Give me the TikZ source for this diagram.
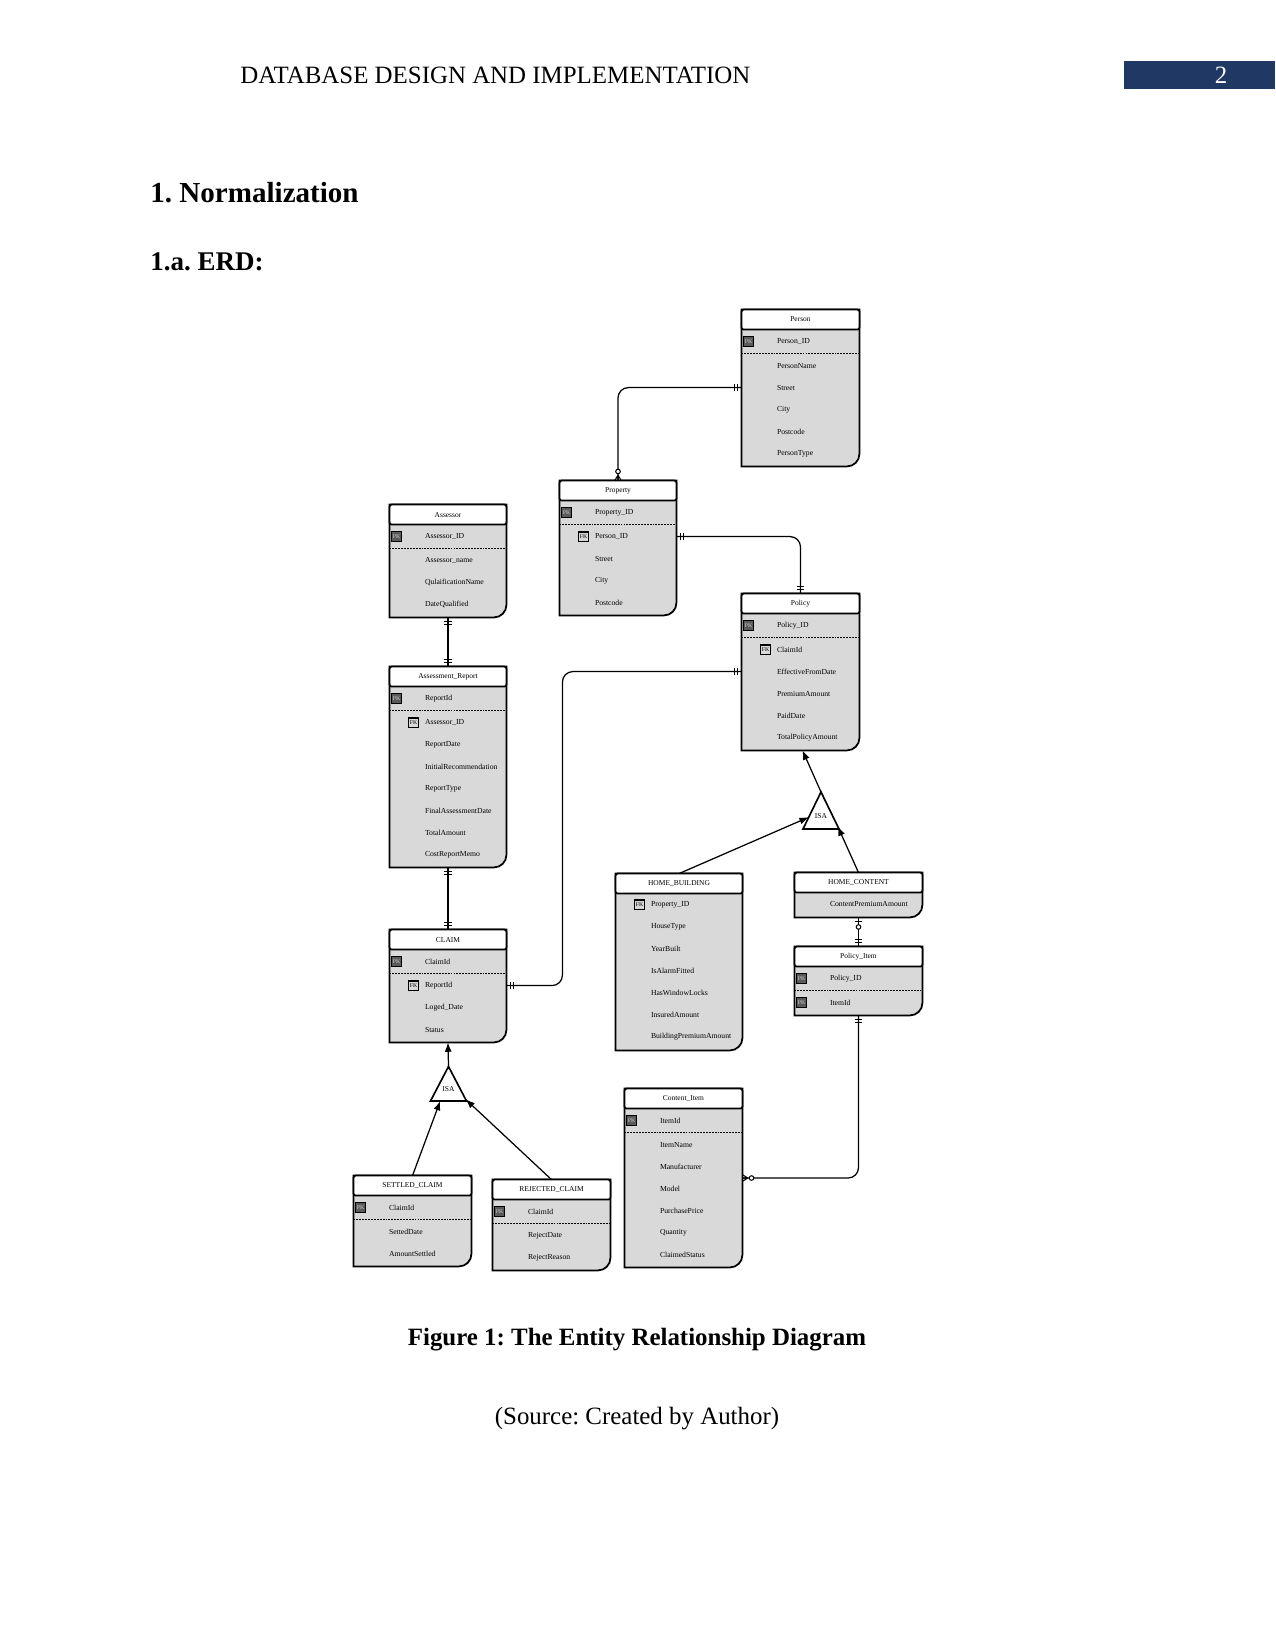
\documentclass[tikz,border=0pt]{standalone}
\usepackage{fontspec}
\setmainfont{Liberation Serif}
\usetikzlibrary{arrows.meta,calc,fit,decorations.markings}
\definecolor{navy}{HTML}{1F3864}
\definecolor{entgray}{HTML}{D9D9D9}
\definecolor{keygray}{HTML}{5A5A5A}
\frenchspacing

\begin{document}
\begin{tikzpicture}[x=0.48bp,y=-0.48bp,
  ebody/.style={fill=entgray,draw=black,line width=0.85pt},
  ehead/.style={fill=white,draw=black,line width=0.85pt,rounded corners=1pt},
  etitle/.style={font=\fontsize{3.6}{4}\selectfont,inner sep=0},
  attr/.style={anchor=west,font=\fontsize{3.7}{4}\selectfont,inner sep=0},
  pk/.style={draw=black,fill=keygray,text=white!80!black,font=\fontsize{2.8}{3}\selectfont,inner sep=0,minimum width=4.8bp,minimum height=4.6bp,line width=0.5pt},
  fk/.style={pk,fill=white!85!black,text=black,line width=0.8pt},
  sepline/.style={dash pattern=on 0.9pt off 0.5pt,line width=0.45pt},
  rel/.style={line width=0.6pt,rounded corners=5pt},
  isa/.style={draw=black,line width=0.8pt,fill=white},
  isaarrow/.style={line width=0.6pt,-{Latex[length=4.5pt,width=3.4pt]}},
  bars at start/.style={postaction={decorate,decoration={markings,
    mark=at position 2pt with {\draw[line width=0.5pt] (0pt,-1.8pt) -- (0pt,1.8pt);},
    mark=at position 3.6pt with {\draw[line width=0.5pt] (0pt,-1.8pt) -- (0pt,1.8pt);}}}},
  bars at end/.style={postaction={decorate,decoration={markings,
    mark=at position -2pt with {\draw[line width=0.5pt] (0pt,-1.8pt) -- (0pt,1.8pt);},
    mark=at position -3.6pt with {\draw[line width=0.5pt] (0pt,-1.8pt) -- (0pt,1.8pt);}}}},
  ring at start/.style={postaction={decorate,decoration={markings,
    mark=at position 2pt with {\draw[line width=0.5pt] (0pt,-1.8pt) -- (0pt,1.8pt);},
    mark=at position 4.6pt with {\draw[line width=0.5pt,fill=white] (0pt,0pt) circle (1.1pt);}}}},
  crow at end/.style={postaction={decorate,decoration={markings,
    mark=at position -2.6pt with {\draw[line width=0.5pt] (0pt,0pt) -- (2.6pt,1.6pt) (0pt,0pt) -- (2.6pt,0pt) (0pt,0pt) -- (2.6pt,-1.6pt);},
    mark=at position -4.4pt with {\draw[line width=0.5pt,fill=white] (0pt,0pt) circle (1.1pt);}}}}]
  \useasboundingbox (0,0) rectangle (1275,1651);

  \node[anchor=west,font=\fontsize{12}{14}\selectfont,inner sep=0] (runhead) at (240,75) {DATABASE DESIGN AND IMPLEMENTATION};
  \fill[navy] (1124,61) rectangle (1275,89);
  \node[text=white,font=\fontsize{12}{14}\selectfont] (pageno) at (1221,75) {2};
  \node[anchor=west,font=\fontsize{14}{16}\bfseries,inner sep=0] (sect) at (150,193) {1. Normalization};
  \node[anchor=west,font=\fontsize{13}{15}\bfseries,inner sep=0] (subsect) at (150,262) {1.a. ERD:};

  \foreach \nm/\xa/\ya/\xb/\yb/\ttl in {person/742/310/859/466/Person,
    property/560/481/676/615/Property, assessor/390/505/506/617/Assessor,
    report/390/667/506/867/Assessment\_Report, claim/390/930/506/1042/CLAIM,
    policy/742/594/859/750/Policy, homeb/616/874/742/1050/HOME\_BUILDING,
    homec/795/873/922/917/HOME\_CONTENT, pitem/795/947/922/1015/Policy\_Item,
    citem/625/1089/742/1267/Content\_Item, settled/354/1176/471/1266/SETTLED\_CLAIM,
    rejected/493/1180/610/1270/REJECTED\_CLAIM}{
    \coordinate (\nm-nw) at (\xa,\ya);
    \coordinate (\nm-se) at (\xb,\yb);
    \node[fit=(\nm-nw)(\nm-se),inner sep=0] (\nm) {};
    \filldraw[ebody] (\nm.south) -- (\nm.south west) -- (\nm.north west) -- (\nm.north east) [rounded corners=6pt] -- (\nm.south east) -- cycle;
    \filldraw[ehead] (\nm.north west) rectangle ($(\nm.north east)+(0,20)$);
    \node[etitle] (\nm-title) at ($(\nm.north)+(0,10)$) {\ttl};
  }

  \foreach \nm/\txt in {person/Person\_ID, property/Property\_ID, assessor/Assessor\_ID,
    report/ReportId, claim/ClaimId, policy/Policy\_ID, pitem/Policy\_ID,
    citem/ItemId, settled/ClaimId, rejected/ClaimId}{
    \node[attr] (\nm-key) at ($(\nm.north west)+(35,32)$) {\txt};
    \node[pk] (\nm-pk) at ($(\nm.north west)+(7,32)$) {PK};
    \draw[sepline] ($(\nm.north west)+(0,44)$) -- ($(\nm.north east)+(0,44)$);
  }

  \foreach \nm/\yo/\rows in {
    person/56/{PersonName,Street,City,Postcode,PersonType},
    property/56/{Person\_ID,Street,City,Postcode},
    assessor/56/{Assessor\_name,QulaificationName,DateQualified},
    report/56/{Assessor\_ID,ReportDate,InitialRecommendation,ReportType,FinalAssessmentDate,TotalAmount,CostReportMemo},
    claim/56/{ReportId,Loged\_Date,Status},
    policy/56/{ClaimId,EffectiveFromDate,PremiumAmount,PaidDate,TotalPolicyAmount},
    homeb/31/{Property\_ID,HouseType,YearBuilt,IsAlarmFitted,HasWindowLocks,InsuredAmount,BuildingPremiumAmount},
    homec/31/{ContentPremiumAmount},
    pitem/56/{ItemId},
    citem/56/{ItemName,Manufacturer,Model,PurchasePrice,Quantity,ClaimedStatus},
    settled/56/{SettedDate,AmountSettled},
    rejected/56/{RejectDate,RejectReason}}{
    \foreach \txt [count=\k from 0] in \rows
      \node[attr] (\nm-\k) at ($(\nm.north west)+(35,{\yo+22*\k})$) {\txt};
  }
  \foreach \nm in {property,report,claim,policy,homeb}
    \node[fk] (\nm-fk) at ($(\nm-0.west)+(-11,0)$) {FK};
  \node[pk] (pitem-pk2) at ($(pitem-0.west)+(-28,0)$) {PK};

  \coordinate (isa1-top) at (821,792);
  \coordinate (isa1-l) at (803,829);
  \coordinate (isa1-r) at (839,829);
  \filldraw[isa] (isa1-top) -- (isa1-l) -- (isa1-r) -- cycle;
  \node[etitle] (isa1) at (821,816) {ISA};
  \coordinate (isa2-top) at (448.5,1066.5);
  \coordinate (isa2-l) at (430.5,1101);
  \coordinate (isa2-r) at (466.5,1101);
  \filldraw[isa] (isa2-top) -- (isa2-l) -- (isa2-r) -- cycle;
  \node[etitle] (isa2) at (448.5,1089) {ISA};

  \draw[rel,bars at start,crow at end] (person.west |- person-1) -| (property.north);
  \draw[rel,bars at start,bars at end] (property.east |- property-0) -| (policy.north);
  \draw[rel,bars at start,bars at end] (assessor.south) -- (report.north);
  \draw[rel,bars at start,bars at end] (report.south) -- (claim.north);
  \draw[rel,bars at start,bars at end] (claim.east |- claim-0) -- ++(56,0) |- (policy.west |- policy-1);
  \draw[rel,ring at start,bars at end] (homec.south) -- (pitem.north);
  \draw[rel,bars at start,crow at end] (pitem.south) |- (citem.east);

  \draw[isaarrow] (isa1-top) -- ($(policy.south)+(2,0)$);
  \draw[isaarrow] (homeb.north) -- ($(isa1-top)!0.68!(isa1-l)$);
  \draw[isaarrow] (homec.north) -- ($(isa1-top)!0.93!(isa1-r)$);
  \draw[isaarrow] (isa2-top) -- (claim.south);
  \draw[isaarrow] (settled.north) -- ($(isa2-l)!0.27!(isa2-r)$);
  \draw[isaarrow] (rejected.north) -- ($(isa2-top)!0.95!(isa2-r)$);

  \node[font=\fontsize{12}{14}\bfseries] (caption) at (637,1340) {Figure 1: The Entity Relationship Diagram};
  \node[font=\fontsize{12}{14}\selectfont] (source) at (637,1419) {(Source: Created by Author)};
\end{tikzpicture}
\end{document}
